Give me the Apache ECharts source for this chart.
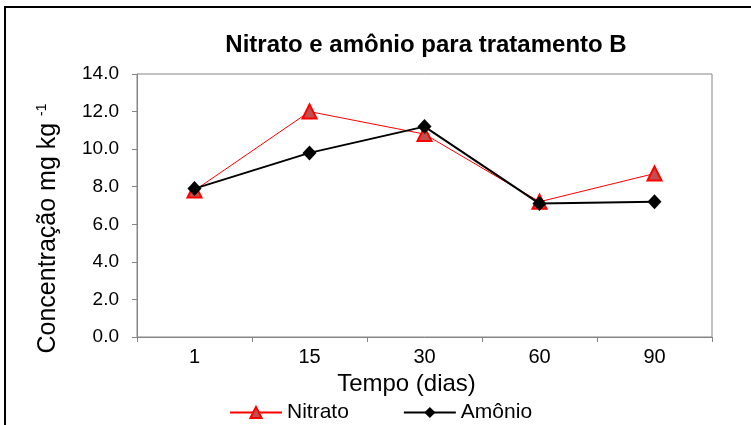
<!DOCTYPE html>
<html>
<head>
<meta charset="utf-8">
<script src="https://cdn.jsdelivr.net/npm/echarts@6/dist/echarts.min.js"></script>
<style>html,body{margin:0;padding:0;background:#fff}#c{width:751px;height:425px}</style>
</head>
<body>
<div id="c"></div>
<script>
var categories = ['1', '15', '30', '60', '90'];
var nitrato = [7.8, 12.0, 10.8, 7.2, 8.7];
var amonio = [7.9, 9.8, 11.2, 7.1, 7.2];
var yTicks = {min: 0, max: 14, interval: 2};

var chart = echarts.init(document.getElementById('c'));
var font = 'Liberation Sans, Arial, sans-serif';
chart.setOption({
  animation: false,
  backgroundColor: '#fff',
  title: {
    text: 'Nitrato e amônio para tratamento B',
    left: 421, top: 28, textAlign: 'center',
    textStyle: {fontFamily: font, fontSize: 24, fontWeight: 'bold', color: '#000'}
  },
  graphic: [{
    type: 'polyline', silent: true,
    shape: {points: [[5, 425], [5, 7], [751, 7]]},
    style: {stroke: '#000', lineWidth: 2, fill: null}
  }],
  legend: {
    left: 224, top: 397,
    itemWidth: 52, itemHeight: 14, itemGap: 54,
    textStyle: {fontFamily: font, fontSize: 21, color: '#000', padding: [0, 0, 0, 0]},
    data: ['Nitrato', 'Amônio']
  },
  grid: {
    left: 137, right: 39, top: 74, bottom: 88,
    show: true, borderColor: '#868686', borderWidth: 1, containLabel: false
  },
  xAxis: {
    type: 'category', data: categories, boundaryGap: true,
    name: 'Tempo (dias)', nameLocation: 'middle', nameGap: 34,
    nameTextStyle: {fontFamily: font, fontSize: 24, color: '#000', padding: [0, 36, 0, 0]},
    axisLine: {lineStyle: {color: '#868686', width: 1}},
    axisTick: {show: true, length: 5, inside: false, alignWithLabel: false, lineStyle: {color: '#868686'}},
    axisLabel: {fontFamily: font, fontSize: 20, color: '#000', margin: 10},
    splitLine: {show: false}
  },
  yAxis: {
    type: 'value', min: yTicks.min, max: yTicks.max, interval: yTicks.interval,
    name: '{a|Concentração mg kg }{s|-1}', nameLocation: 'middle', nameGap: 76, nameRotate: 90,
    nameTextStyle: {
      padding: [0, 46, 0, 0],
      rich: {
        a: {fontFamily: font, fontSize: 25, color: '#000'},
        s: {fontFamily: font, fontSize: 14, color: '#000', verticalAlign: 'top', padding: [0, 0, 12, 0]}
      }
    },
    axisLine: {show: true, lineStyle: {color: '#868686', width: 1}},
    axisTick: {show: true, length: 5, lineStyle: {color: '#868686'}},
    axisLabel: {fontFamily: font, fontSize: 19, color: '#000', margin: 18,
      formatter: function (v) { return v.toFixed(1); }},
    splitLine: {show: false}
  },
  series: [{
    name: 'Nitrato', type: 'line', data: nitrato,
    symbol: 'triangle', symbolSize: 14,
    lineStyle: {color: '#ff0000', width: 1},
    itemStyle: {color: '#c0504d', borderColor: '#ff0000', borderWidth: 2},
    z: 2
  }, {
    name: 'Amônio', type: 'line', data: amonio,
    symbol: 'diamond', symbolSize: [14, 15],
    lineStyle: {color: '#000', width: 2},
    itemStyle: {color: '#000', borderColor: '#000', borderWidth: 0},
    z: 3
  }]
});
</script>
</body>
</html>
